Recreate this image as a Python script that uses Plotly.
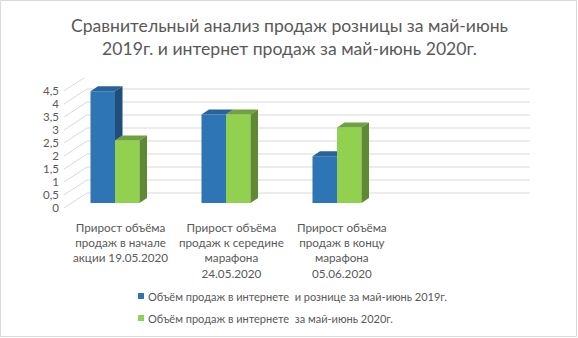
import plotly.graph_objects as go

# ---------------- data ----------------
categories = [
    "Прирост объёма<br>продаж в начале<br>акции 19.05.2020",
    "Прирост объёма<br>продаж к середине<br>марафона<br>24.05.2020",
    "Прирост объёма<br>продаж в концу<br>марафона<br>05.06.2020",
]
series_names = [
    "Объём продаж в интернете  и рознице за май-июнь 2019г.",
    "Объём продаж в интернете  за май-июнь 2020г.",
]
sales_2019 = [4.3, 3.4, 1.8]
sales_2020 = [2.4, 3.4, 2.9]
y_tick_values = [0, 0.5, 1, 1.5, 2, 2.5, 3, 3.5, 4, 4.5]
y_tick_labels = ["0", "0,5", "1", "1,5", "2", "2,5", "3", "3,5", "4", "4,5"]
title_text = "Сравнительный анализ продаж розницы за май-июнь<br>2019г. и интернет продаж за май-июнь 2020г."

# ---------------- styling / geometry ----------------
W, H = 578, 338
ML, MR, MT, MB = 60, 41, 78, 125
PX_CAT, PX_UNIT = 111.0, 26.0
plot_w, plot_h = W - ML - MR, H - MT - MB
x_min = -(115 - ML) / PX_CAT
x_max = x_min + plot_w / PX_CAT
y_min = -((H - MB) - 208) / PX_UNIT
y_max = y_min + plot_h / PX_UNIT

WALL_X0 = (64 - 115) / PX_CAT      # front-left corner of walls
WALL_X1 = (530 - 115) / PX_CAT     # back-right end of gridlines
DEPTH_DX = 23 / PX_CAT
DEPTH_DY = 15 / PX_UNIT
BAR_BASE = 5 / PX_UNIT
BAR_W = 24.5 / PX_CAT
BAR_DX = 7.5 / PX_CAT
BAR_DY = 5 / PX_UNIT

FONT = "Lato"
TXT = "#595959"
GRID = "#D9D9D9"
BLUE = dict(front="#2E75B6", top="#2A629A", side="#1F4E79")
GREEN = dict(front="#92D050", top="#6FA23C", side="#5E8A33")


def px_to_paper_x(p):
    return (p - ML) / plot_w


def px_to_paper_y(p):
    return ((H - MB) - p) / plot_h


fig = go.Figure()

# front faces (bars)
xs_blue = [i - BAR_W / 2 for i in range(len(categories))]
xs_green = [i + BAR_W / 2 for i in range(len(categories))]
fig.add_trace(go.Bar(x=xs_blue, y=sales_2019, base=BAR_BASE, width=BAR_W,
                     name=series_names[0],
                     marker=dict(color=BLUE["front"], line=dict(width=0)),
                     showlegend=False, hoverinfo="skip"))
fig.add_trace(go.Bar(x=xs_green, y=sales_2020, base=BAR_BASE, width=BAR_W,
                     name=series_names[1],
                     marker=dict(color=GREEN["front"], line=dict(width=0)),
                     showlegend=False, hoverinfo="skip"))


def poly(xs, ys, color):
    fig.add_trace(go.Scatter(x=xs + [xs[0]], y=ys + [ys[0]], mode="lines",
                             fill="toself", fillcolor=color,
                             line=dict(width=0, color=color),
                             showlegend=False, hoverinfo="skip"))


for i in range(len(categories)):
    hb = sales_2019[i] + BAR_BASE
    hg = sales_2020[i] + BAR_BASE
    xl = i - BAR_W
    xe = i
    xr = i + BAR_W
    # blue top (clipped by green front if green is taller)
    yc = min(max(hg, hb), hb + BAR_DY)
    xc = xe + (yc - hb) / BAR_DY * BAR_DX
    poly([xl, xe, xe, xc, xe + BAR_DX, xl + BAR_DX],
         [hb, hb, yc, yc, hb + BAR_DY, hb + BAR_DY], BLUE["top"])
    # green top and side
    poly([xe, xr, xr + BAR_DX, xe + BAR_DX],
         [hg, hg, hg + BAR_DY, hg + BAR_DY], GREEN["top"])
    poly([xr, xr + BAR_DX, xr + BAR_DX, xr],
         [BAR_BASE, BAR_BASE + BAR_DY, hg + BAR_DY, hg], GREEN["side"])
    # blue side visible above green
    if hb > hg:
        poly([xe, xe + BAR_DX, xe + BAR_DX, xe],
             [hg, hg + BAR_DY, hb + BAR_DY, hb], BLUE["side"])

# gridlines on left and back walls
shapes = []
for v in y_tick_values:
    shapes.append(dict(type="path", xref="x", yref="y", layer="below",
                       path=f"M{WALL_X0},{v} L{WALL_X0 + DEPTH_DX},{v + DEPTH_DY} L{WALL_X1},{v + DEPTH_DY}",
                       line=dict(color=GRID, width=1)))
# chart border
shapes.append(dict(type="rect", xref="paper", yref="paper",
                   x0=px_to_paper_x(0.5), x1=px_to_paper_x(W - 1.5),
                   y0=px_to_paper_y(H - 1.5), y1=px_to_paper_y(0.5),
                   line=dict(color=GRID, width=1)))

annotations = []
# title
annotations.append(dict(text=title_text, x=px_to_paper_x(289), xref="paper",
                        y=px_to_paper_y(13), yref="paper", xanchor="center",
                        yanchor="top", showarrow=False, align="center",
                        font=dict(family=FONT, size=17.6, color=TXT)))
for i, lab in enumerate(categories):
    annotations.append(dict(text=lab, x=i + 0.045, xref="x", y=px_to_paper_y(218),
                            yref="paper", yanchor="top", xanchor="center",
                            showarrow=False, align="center",
                            font=dict(family=FONT, size=11.7, color=TXT)))

# legend (square key + text)
legend_rows_y = [296, 318]
for name, col, ry in zip(series_names, [BLUE["front"], GREEN["front"]], legend_rows_y):
    shapes.append(dict(type="rect", xref="paper", yref="paper",
                       x0=px_to_paper_x(138), x1=px_to_paper_x(144),
                       y0=px_to_paper_y(ry + 3), y1=px_to_paper_y(ry - 3),
                       fillcolor=col, line=dict(width=0)))
    annotations.append(dict(text=name, x=px_to_paper_x(146), xref="paper",
                            y=px_to_paper_y(ry), yref="paper", xanchor="left",
                            yanchor="middle", showarrow=False,
                            font=dict(family=FONT, size=11, color=TXT)))

fig.update_layout(
    width=W, height=H,
    margin=dict(l=ML, r=MR, t=MT, b=MB, pad=0, autoexpand=False),
    paper_bgcolor="white", plot_bgcolor="rgba(0,0,0,0)",
    barmode="overlay", showlegend=False,
    xaxis=dict(range=[x_min, x_max], showgrid=False, zeroline=False,
               showticklabels=False, showline=False, fixedrange=True),
    yaxis=dict(range=[y_min, y_max], showgrid=False, zeroline=False,
               tickvals=y_tick_values, ticktext=y_tick_labels, ticks="",
               showline=False, fixedrange=True,
               tickfont=dict(family=FONT, size=11.5, color=TXT)),
    shapes=shapes, annotations=annotations,
)

fig.write_html("out.html", config={"displayModeBar": False},
               post_script="document.body.style.margin='0';document.body.style.padding='0';")
